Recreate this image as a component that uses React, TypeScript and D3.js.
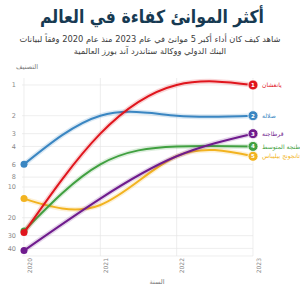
import React from "react";
import * as d3 from "d3";

const years = [2020, 2021, 2022, 2023];
const portNames = ["يانغشان", "صلالة", "قرطاجنة", "طنجة المتوسط", "تانجونج بيليباس"];
const yangshan = [28, 3, 1, 1];
const salalah = [6, 2, 2, 2];
const cartagena = [42, 13, 5, 3];
const tangerMed = [27, 6, 4, 4];
const tanjungPelepas = [13, 15, 5, 5];
const portColors = ["#e0151d", "#3a86c2", "#6f1b8d", "#40a040", "#f2b320"];
const yTicks = [1, 2, 3, 4, 6, 8, 10, 20, 30, 40];

const title = "أكثر الموانئ كفاءة في العالم";
const subtitle1 = "شاهد كيف كان أداء أكبر 5 موانئ في عام 2023 منذ عام 2020 وفقاً لبيانات";
const subtitle2 = "البنك الدولي ووكالة ستاندرد آند بورز العالمية";
const yTitle = "التصنيف";
const xTitle = "السنة";

export default function App() {
  const W = 300;
  const H = 291;
  const x = d3.scaleLinear().domain([2020, 2023]).range([24, 253]);
  const y = d3.scaleLog().domain([1, 40]).range([85, 248.4]);
  const series = [yangshan, salalah, cartagena, tangerMed, tanjungPelepas];
  const line = d3
    .line<[number, number]>()
    .x((d) => x(d[0]))
    .y((d) => y(d[1]))
    .curve(d3.curveNatural);
  const order = [4, 3, 2, 1, 0];
  const font = "'DejaVu Sans', sans-serif";
  const gridTop = 78;
  const gridBottom = 256;
  return (
    <svg
      width={W}
      height={H}
      style={{ position: "absolute", left: 0, top: 0, background: "#fff" }}
      fontFamily={font}
    >
      <text
        x={152}
        y={23}
        textAnchor="middle"
        fontSize={18}
        fontWeight="bold"
        fill="#173a52"
        direction="rtl"
        textLength={224}
        lengthAdjust="spacingAndGlyphs"
      >
        {title}
      </text>
      <text x={150} y={42} textAnchor="middle" fontSize={8.3} fill="#3d3d3d" direction="rtl">
        {subtitle1}
      </text>
      <text x={150} y={54} textAnchor="middle" fontSize={8.3} fill="#3d3d3d" direction="rtl">
        {subtitle2}
      </text>
      <text x={27} y={69} textAnchor="middle" fontSize={6.5} fill="#777">
        {yTitle}
      </text>
      {yTicks.map((t) => (
        <g key={t}>
          <line x1={22} x2={253} y1={y(t)} y2={y(t)} stroke="#e6e6e6" strokeWidth={0.7} />
          <text x={16} y={y(t)} dy="0.35em" textAnchor="end" fontSize={6.5} fill="#888">
            {t}
          </text>
        </g>
      ))}
      <line x1={22} x2={253} y1={gridBottom} y2={gridBottom} stroke="#e6e6e6" strokeWidth={0.7} />
      {years.map((yr) => (
        <g key={yr}>
          <line x1={x(yr)} x2={x(yr)} y1={gridTop} y2={gridBottom} stroke="#e6e6e6" strokeWidth={0.7} />
          <text
            transform={`translate(${x(yr) + 7.5},${gridBottom + 2}) rotate(-90)`}
            textAnchor="end"
            fontSize={6}
            fill="#888"
          >
            {yr}
          </text>
        </g>
      ))}
      <text x={157} y={284} textAnchor="middle" fontSize={6.5} fill="#777">
        {xTitle}
      </text>
      {order.map((i) => {
        const pts = years.map((yr, j) => [yr, series[i][j]] as [number, number]);
        const d = line(pts) || "";
        return (
          <g key={i}>
            <path d={d} fill="none" stroke={portColors[i]} strokeOpacity={0.18} strokeWidth={5} />
            <path d={d} fill="none" stroke={portColors[i]} strokeWidth={2} />
            <circle cx={x(years[0])} cy={y(series[i][0])} r={3.5} fill={portColors[i]} />
          </g>
        );
      })}
      {order.map((i) => {
        const last = series[i][series[i].length - 1];
        const cx = x(years[years.length - 1]);
        const cy = y(last);
        return (
          <g key={"e" + i}>
            <circle cx={cx} cy={cy} r={5} fill={portColors[i]} stroke="#fff" strokeWidth={0.8} />
            <text x={cx} y={cy} dy="0.35em" textAnchor="middle" fontSize={5.5} fontWeight="bold" fill="#fff">
              {i + 1}
            </text>
            <text x={262} y={cy} dy="0.35em" textAnchor="start" fontSize={6} fill={portColors[i]}>
              {portNames[i]}
            </text>
          </g>
        );
      })}
    </svg>
  );
}
